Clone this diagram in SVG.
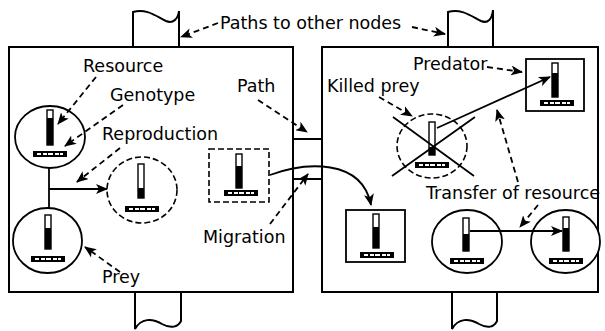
<svg xmlns="http://www.w3.org/2000/svg" xmlns:xlink="http://www.w3.org/1999/xlink" width="605" height="331" viewBox="0 0 605 331">
<style>
.box{fill:#fff;stroke:#000;stroke-width:2}
.tube{fill:none;stroke:#000;stroke-width:2}
.org{fill:#fff;stroke:#000;stroke-width:1.8}
.dorg{fill:#fff;stroke:#000;stroke-width:1.6;stroke-dasharray:6,3}
.bar{fill:#fff;stroke:#000;stroke-width:1.4}
.fill{fill:#000}
.lbl{font-family:"DejaVu Sans","Liberation Sans",sans-serif;font-size:17.5px;fill:#000}
.dash{fill:none;stroke:#000;stroke-width:1.8;stroke-dasharray:6,4;marker-end:url(#ah)}
.solid{fill:none;stroke:#000;stroke-width:1.8;marker-end:url(#ah)}
.plain{fill:none;stroke:#000;stroke-width:1.8}
</style>
<defs>
<marker id="ah" markerUnits="userSpaceOnUse" markerWidth="12" markerHeight="10" refX="11" refY="5" orient="auto">
<path d="M0,0 L12,5 L0,10 L3,5 Z" fill="#000"/>
</marker>
<symbol id="geno" viewBox="0 0 34 6" width="34" height="6" overflow="visible">
<rect x="0" y="0" width="34" height="6" fill="#000"/>
<rect x="4" y="2" width="4" height="2" fill="#fff"/>
<rect x="10" y="2" width="4" height="2" fill="#fff"/>
<rect x="15" y="2" width="5" height="2" fill="#fff"/>
<rect x="22" y="2" width="4" height="2" fill="#fff"/>
<rect x="27" y="2" width="3" height="2" fill="#fff"/>
</symbol>
</defs>

<!-- tubes -->
<g id="tubes">
<path class="tube" d="M133,47 V12 C146,8 156,16 166,21 C173,24 178,19 179,11 V47"/>
<path class="tube" d="M448,47 V12 C461,8 471,16 481,21 C488,24 492,19 493,10 V47"/>
<path class="tube" d="M135,292 V329 C141,318 152,318 162,324 C171,329 178,327 181,321 V292"/>
<path class="tube" d="M452,292 V329 C458,318 469,318 479,324 C488,329 494,327 497,321 V292"/>
<path class="plain" d="M293,139 H322 M293,179 H322"/>
</g>

<g id="node-left">
<rect class="box" x="9" y="47" width="284" height="245"/>
</g>
<g id="node-right">
<rect class="box" x="322" y="47" width="276" height="245"/>
</g>

<!-- organisms left -->
<g id="org-resource">
<ellipse class="org" cx="50" cy="137" rx="35" ry="31"/>
<rect class="bar" x="47" y="110" width="6" height="35"/>
<rect class="fill" x="47" y="118" width="6" height="27"/>
<use xlink:href="#geno" x="33" y="151"/>
</g>
<g id="org-child">
<ellipse class="dorg" cx="142" cy="190" rx="35" ry="33"/>
<rect class="bar" x="138" y="164" width="6" height="34"/>
<rect class="fill" x="138" y="188" width="6" height="10"/>
<use xlink:href="#geno" x="125" y="206"/>
</g>
<g id="org-prey">
<ellipse class="org" cx="47.5" cy="240.5" rx="34.5" ry="32.5"/>
<rect class="bar" x="45" y="215" width="6" height="34"/>
<rect class="fill" x="45" y="228" width="6" height="21"/>
<use xlink:href="#geno" x="31" y="256"/>
</g>
<g id="org-migrant">
<rect class="dorg" x="209" y="149" width="60" height="53"/>
<rect class="bar" x="236" y="154" width="6" height="34"/>
<rect class="fill" x="236" y="166" width="6" height="22"/>
<use xlink:href="#geno" x="224" y="190"/>
</g>

<!-- organisms right -->
<g id="org-arrived">
<rect class="org" x="346" y="210" width="59" height="52"/>
<rect class="bar" x="373" y="214" width="6" height="34"/>
<rect class="fill" x="373" y="227" width="6" height="21"/>
<use xlink:href="#geno" x="360" y="252"/>
</g>
<g id="org-killed">
<ellipse class="dorg" cx="432" cy="146" rx="35" ry="32"/>
<rect class="bar" x="429" y="122" width="6" height="33"/>
<rect class="fill" x="429" y="147" width="6" height="8"/>
<use xlink:href="#geno" x="415" y="162"/>
<path class="plain" d="M393,117 L474,176 M475,117 L392,176"/>
</g>
<g id="org-predator">
<rect class="org" x="526" y="59" width="58" height="52"/>
<rect class="bar" x="552" y="63" width="6" height="34"/>
<rect class="fill" x="552" y="73" width="6" height="24"/>
<use xlink:href="#geno" x="540" y="100"/>
</g>
<g id="org-donor">
<ellipse class="org" cx="467" cy="241.5" rx="35" ry="31.5"/>
<rect class="bar" x="463" y="218" width="6" height="33"/>
<rect class="fill" x="463" y="234" width="6" height="17"/>
<use xlink:href="#geno" x="450" y="258"/>
</g>
<g id="org-receiver">
<ellipse class="org" cx="565.5" cy="241.5" rx="34.5" ry="31.5"/>
<rect class="bar" x="563" y="217" width="6" height="34"/>
<rect class="fill" x="563" y="228" width="6" height="23"/>
<use xlink:href="#geno" x="549" y="258"/>
</g>

<!-- connectors -->
<g id="connectors">
<path class="plain" d="M49,168 V208"/>
<path class="solid" d="M49,189 H107"/>
<path class="solid" d="M270,175 C305,162 362,158 371,205"/>
<path class="solid" d="M437,128 L550,77"/>
<path class="solid" d="M470,231 H562"/>
<path class="dash" d="M218,23 L181,37"/>
<path class="dash" d="M412,27 L445,34"/>
<path class="dash" d="M96,77 L58,124"/>
<path class="dash" d="M123,105 L65,146"/>
<path class="dash" d="M120,148 L77,182"/>
<path class="dash" d="M120,272 L85,247"/>
<path class="dash" d="M258,100 L307,132"/>
<path class="dash" d="M270,224 L308,174"/>
<path class="dash" d="M487,67 L522,72"/>
<path class="dash" d="M379,97 L412,116"/>
<path class="dash" d="M518,182 L497,110"/>
<path class="dash" d="M538,205 L520,227"/>
</g>

<!-- labels -->
<g id="labels">
<text class="lbl" x="220" y="29">Paths to other nodes</text>
<text class="lbl" x="83" y="72">Resource</text>
<text class="lbl" x="110" y="101">Genotype</text>
<text class="lbl" x="237" y="92">Path</text>
<text class="lbl" x="102" y="140">Reproduction</text>
<text class="lbl" x="203" y="243">Migration</text>
<text class="lbl" x="102" y="283">Prey</text>
<text class="lbl" x="413" y="70">Predator</text>
<text class="lbl" x="327" y="92">Killed prey</text>
<text class="lbl" x="426" y="199">Transfer of resource</text>
</g>
</svg>
